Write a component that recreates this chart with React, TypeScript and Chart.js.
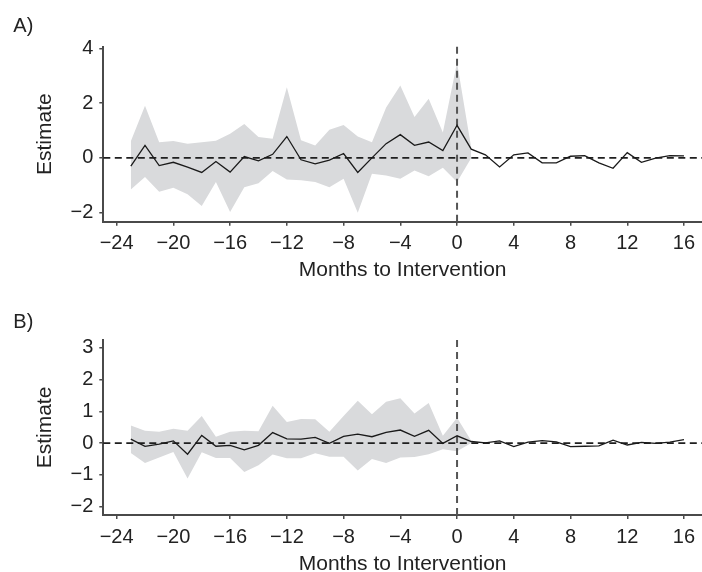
import React, { useEffect, useRef } from 'react';
import { Chart, registerables } from 'chart.js';

Chart.register(...registerables);

// ---------- data ----------
const MONTHS = [
  -23, -22, -21, -20, -19, -18, -17, -16, -15, -14, -13, -12, -11, -10, -9, -8, -7, -6, -5, -4,
  -3, -2, -1, 0, 1, 2, 3, 4, 5, 6, 7, 8, 9, 10, 11, 12, 13, 14, 15, 16,
];
const BAND_MONTHS = [
  -23, -22, -21, -20, -19, -18, -17, -16, -15, -14, -13, -12, -11, -10, -9, -8, -7, -6, -5, -4,
  -3, -2, -1, 0, 1,
];

const A_EST = [
  -0.3, 0.46, -0.28, -0.16, -0.34, -0.53, -0.13, -0.52, 0.05, -0.11, 0.13, 0.78, -0.07, -0.22,
  -0.08, 0.16, -0.53, 0.0, 0.52, 0.85, 0.46, 0.58, 0.27, 1.19, 0.32, 0.11, -0.33, 0.11, 0.18,
  -0.18, -0.18, 0.06, 0.08, -0.18, -0.38, 0.19, -0.16, -0.01, 0.08, 0.07,
];
const A_UPPER = [
  0.61, 1.9, 0.57, 0.62, 0.52, 0.57, 0.63, 0.88, 1.24, 0.76, 0.7, 2.58, 0.64, 0.45, 1.03, 1.2,
  0.78, 0.57, 1.84, 2.64, 1.49, 2.16, 0.93, 3.48, 0.37,
];
const A_LOWER = [
  -1.15, -0.7, -1.24, -1.09, -1.33, -1.76, -0.88, -1.98, -1.07, -0.93, -0.48, -0.79, -0.82, -0.88,
  -1.07, -0.76, -2.0, -0.58, -0.64, -0.76, -0.46, -0.67, -0.36, -0.88, 0.0,
];

const B_EST = [
  0.125, -0.1, -0.03, 0.07, -0.35, 0.24, -0.1, -0.07, -0.21, -0.07, 0.33, 0.135, 0.125, 0.18,
  -0.01, 0.21, 0.28, 0.2, 0.34, 0.41, 0.21, 0.4, -0.01, 0.23, 0.05, 0.01, 0.07, -0.11, 0.03, 0.08,
  0.04, -0.11, -0.1, -0.09, 0.09, -0.06, 0.02, -0.01, 0.03, 0.11,
];
const B_UPPER = [
  0.55, 0.39, 0.36, 0.45, 0.39, 0.85, 0.2, 0.36, 0.39, 0.375, 1.17, 0.66, 0.76, 0.75, 0.36, 0.85,
  1.33, 0.91, 1.3, 1.41, 0.93, 1.26, 0.23, 0.8, 0.07,
];
const B_LOWER = [
  -0.31, -0.625, -0.45, -0.28, -1.11, -0.29, -0.47, -0.47, -0.91, -0.7, -0.36, -0.48, -0.48,
  -0.32, -0.43, -0.43, -0.86, -0.5, -0.625, -0.45, -0.44, -0.35, -0.19, -0.26, 0.0,
];

const X_TICKS = [-24, -20, -16, -12, -8, -4, 0, 4, 8, 12, 16];
const A_Y_TICKS = [-2, 0, 2, 4];
const B_Y_TICKS = [-2, -1, 0, 1, 2, 3];

const X_TITLE = 'Months to Intervention';
const Y_TITLE = 'Estimate';
const REF_X = 0;
const REF_Y = 0;

// ---------- styling ----------
const FONT = "'Liberation Sans', Arial, Helvetica, sans-serif";
const TEXT = '#222222';
const AXIS = '#4a4a4a';
const BAND = '#d9dadc';
const LINE = '#1a1a1a';

const X_MIN = -24.94;
const X_MAX = 17.27;

const fmt = (v: number) => (v < 0 ? '\u2212' + Math.abs(v) : String(v));

const refLines = {
  id: 'refLines',
  beforeDatasetDraw(chart: any, args: any) {
    if (args.index !== 0) return;
    const { ctx, chartArea, scales } = chart;
    const py = scales.y.getPixelForValue(REF_Y);
    const px = scales.x.getPixelForValue(REF_X);
    ctx.save();
    ctx.beginPath();
    ctx.setLineDash([7, 4.5]);
    ctx.lineWidth = 1.6;
    ctx.strokeStyle = '#1f1f1f';
    ctx.moveTo(chartArea.left, py);
    ctx.lineTo(chartArea.right, py);
    ctx.stroke();
    ctx.beginPath();
    ctx.setLineDash([7, 5]);
    ctx.lineWidth = 2;
    ctx.strokeStyle = '#555555';
    ctx.moveTo(px, chartArea.top);
    ctx.lineTo(px, chartArea.bottom);
    ctx.stroke();
    ctx.restore();
  },
};

type PanelProps = {
  est: number[];
  upper: number[];
  lower: number[];
  yTicks: number[];
  yMin: number;
  yMax: number;
  canvasTop: number;
  canvasHeight: number;
  areaTop: number;
  areaBottom: number;
  titleBottomPad: number;
};

function Panel(p: PanelProps) {
  const ref = useRef<HTMLCanvasElement | null>(null);
  useEffect(() => {
    if (!ref.current) return;
    const chart = new Chart(ref.current, {
      type: 'line',
      data: {
        datasets: [
          {
            label: 'Estimate',
            data: MONTHS.map((m, i) => ({ x: m, y: p.est[i] })),
            borderColor: LINE,
            borderWidth: 1.3,
            pointRadius: 0,
            tension: 0,
            fill: false,
          },
          {
            label: 'Upper',
            data: BAND_MONTHS.map((m, i) => ({ x: m, y: p.upper[i] })),
            borderWidth: 0,
            borderColor: 'rgba(0,0,0,0)',
            backgroundColor: BAND,
            pointRadius: 0,
            tension: 0,
            fill: '+1',
          },
          {
            label: 'Lower',
            data: BAND_MONTHS.map((m, i) => ({ x: m, y: p.lower[i] })),
            borderWidth: 0,
            borderColor: 'rgba(0,0,0,0)',
            pointRadius: 0,
            tension: 0,
            fill: false,
          },
        ],
      },
      options: {
        animation: false,
        responsive: false,
        maintainAspectRatio: false,
        events: [],
        layout: { padding: { top: p.areaTop, left: 0, right: 0, bottom: 0 } },
        plugins: { legend: { display: false }, tooltip: { enabled: false }, title: { display: false } },
        scales: {
          x: {
            type: 'linear',
            min: X_MIN,
            max: X_MAX,
            afterBuildTicks: (s: any) => {
              s.ticks = X_TICKS.map((v) => ({ value: v }));
            },
            afterFit: (s: any) => {
              s.height = p.canvasHeight - p.areaBottom;
            },
            ticks: {
              callback: (v: any) => fmt(Number(v)),
              font: { family: FONT, size: 20 },
              color: TEXT,
              padding: 6,
              maxRotation: 0,
              autoSkip: false,
            },
            grid: { drawOnChartArea: false, drawTicks: true, tickLength: 4, color: AXIS, lineWidth: 1.5 },
            border: { display: true, color: AXIS, width: 2 },
            title: {
              display: true,
              text: X_TITLE,
              font: { family: FONT, size: 21 },
              color: TEXT,
              padding: { top: 0, bottom: p.titleBottomPad },
            },
          },
          y: {
            type: 'linear',
            min: p.yMin,
            max: p.yMax,
            afterBuildTicks: (s: any) => {
              s.ticks = p.yTicks.map((v) => ({ value: v }));
            },
            afterFit: (s: any) => {
              s.width = 103.3;
            },
            ticks: {
              callback: (v: any) => fmt(Number(v)),
              font: { family: FONT, size: 20 },
              color: TEXT,
              padding: 6,
              autoSkip: false,
            },
            grid: { drawOnChartArea: false, drawTicks: true, tickLength: 4, color: AXIS, lineWidth: 1.5 },
            border: { display: true, color: AXIS, width: 2 },
            title: {
              display: true,
              text: Y_TITLE,
              font: { family: FONT, size: 21 },
              color: TEXT,
              padding: { top: 32.4, bottom: 0 },
            },
          },
        },
      },
      plugins: [refLines],
    } as any);
    return () => chart.destroy();
  }, []);
  return (
    <canvas
      ref={ref}
      width={702}
      height={p.canvasHeight}
      style={{ position: 'absolute', left: 0, top: p.canvasTop, width: 702, height: p.canvasHeight }}
    />
  );
}

const labelStyle: React.CSSProperties = {
  position: 'absolute',
  left: 13.3,
  fontFamily: FONT,
  fontSize: 20,
  lineHeight: '20px',
  color: TEXT,
};

export default function App() {
  return (
    <div
      style={{
        position: 'fixed',
        left: 0,
        top: 0,
        width: 702,
        height: 572,
        overflow: 'hidden',
        background: '#ffffff',
      }}
    >
      <Panel
        est={A_EST}
        upper={A_UPPER}
        lower={A_LOWER}
        yTicks={A_Y_TICKS}
        yMin={-2.33}
        yMax={4.06}
        canvasTop={0}
        canvasHeight={286}
        areaTop={46.7}
        areaBottom={221.7}
        titleBottomPad={3.4}
      />
      <Panel
        est={B_EST}
        upper={B_UPPER}
        lower={B_LOWER}
        yTicks={B_Y_TICKS}
        yMin={-2.26}
        yMax={3.24}
        canvasTop={286}
        canvasHeight={300}
        areaTop={54}
        areaBottom={229}
        titleBottomPad={9.4}
      />
      <div style={{ ...labelStyle, top: 15.2 }}>A)</div>
      <div style={{ ...labelStyle, top: 311 }}>B)</div>
    </div>
  );
}
